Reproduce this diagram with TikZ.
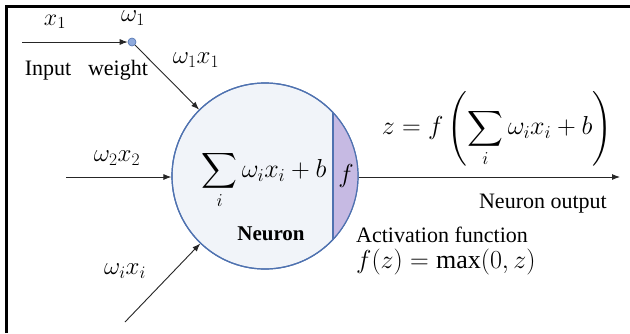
\RequirePackage{fix-cm}
\documentclass[tikz,border=0pt]{standalone}
\usepackage{exscale}
\usepackage{fontspec}
\setmainfont{Liberation Serif}
\usetikzlibrary{arrows.meta}
\definecolor{cfill}{HTML}{F1F4F9}
\definecolor{cborder}{HTML}{4F72B0}
\definecolor{cpurple}{HTML}{C6BAE3}
\definecolor{cdot}{HTML}{8FAADC}
\tikzset{
  arr/.style={draw=black!85, line width=0.9pt, -{Latex[length=8pt,width=6pt]}},
  lbl/.style={inner sep=0pt, font=\fontsize{22}{26}\selectfont},
  mlbl/.style={inner sep=0pt, font=\fontsize{25}{30}\selectfont},
  neuron/.style={circle, minimum size=186pt, inner sep=0pt, draw=cborder, line width=1.2pt},
  wdot/.style={circle, minimum size=8pt, inner sep=0pt, fill=cdot, draw=cborder, line width=0.6pt}
}
\begin{document}
\begin{tikzpicture}[x=1pt,y=-1pt]
\useasboundingbox (0,0) rectangle (630,333);
\fill[white] (0,0) rectangle (630,333);
% frame
\draw[line width=3pt] (6,333) -- (6,6) -- (630,6);
% neuron
\node[neuron, fill=cfill] (n) at (265,176) {};
\begin{scope}
  \clip (265,176) circle (93pt);
  \fill[cpurple] (333,70) rectangle (370,280);
\end{scope}
\draw[cborder, line width=1.2pt] (265,176) circle (93pt);
\coordinate (vt) at (333,112.6);
\coordinate (vb) at (333,239.4);
\draw[cborder, line width=1.2pt] (vt) -- (vb);
\node[mlbl, font=\fontsize{26}{30}\selectfont] (sum) at (264,180) {$\displaystyle\sum_i \omega_i x_i + b$};
\node[mlbl, font=\fontsize{26}{30}\selectfont] (f) at (346,176) {$f$};
\node[lbl, font=\fontsize{21}{25}\selectfont\bfseries] (nlab) at (271,234) {Neuron};
% input 1
\coordinate (in1) at (22,42);
\node[wdot] (w1) at (132,42) {};
\draw[arr] (in1) -- (w1);
\draw[arr] (w1) -- (n);
\node[mlbl, font=\fontsize{24}{28}\selectfont] (x1) at (55,22) {$x_1$};
\node[mlbl] (om1) at (133,18) {$\omega_1$};
\node[lbl, anchor=base] (inp) at (48,75) {Input};
\node[lbl, anchor=base] (wt) at (118,75) {weight};
\node[mlbl] (w1x1) at (196,60) {$\omega_1x_1$};
% input 2
\coordinate (in2) at (66,177);
\draw[arr] (in2) -- (in2 -| n.west);
\node[mlbl] (w2x2) at (117,158) {$\omega_2x_2$};
% input i
\coordinate (in3) at (125,322);
\draw[arr] (in3) -- (n);
\node[mlbl] (wixi) at (125,271) {$\omega_ix_i$};
% output
\coordinate (out) at (620,177);
\draw[arr] (n.east |- out) -- (out);
\node[mlbl, font=\fontsize{26}{30}\selectfont] (zf) at (497,129) {$z = f\left(\displaystyle\sum_i \omega_i x_i + b\right)$};
\node[lbl, anchor=base east] (nout) at (607,208) {Neuron output};
\node[lbl, anchor=base west] (act) at (356,242) {Activation function};
\node[mlbl, font=\fontsize{26}{30}\selectfont, anchor=base west] (fz) at (356,268) {$f(z) = \max(0, z)$};
\end{tikzpicture}
\end{document}
